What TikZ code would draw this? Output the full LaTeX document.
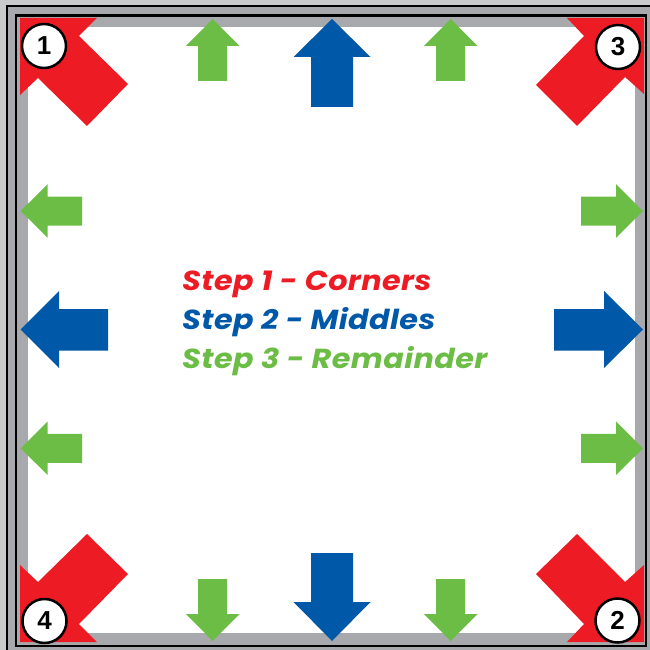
\documentclass[tikz,border=0pt]{standalone}
\usepackage{fontspec}
\setmainfont{Poppins}
\newfontfamily\stepfont{Poppins}[FakeStretch=1.10, LetterSpace=1.5]
\newfontfamily\numfont{Liberation Sans}
\definecolor{cred}{HTML}{ED1C24}
\definecolor{cblue}{HTML}{0058A8}
\definecolor{cgreen}{HTML}{6CBD45}
\definecolor{fgray}{HTML}{A7A9AC}
\definecolor{lgray}{HTML}{C9CACC}
\tikzset{
  numcirc/.style={circle, draw=black, line width=2.5pt, fill=white, minimum size=44pt, inner sep=0pt, font=\numfont\bfseries\fontsize{26}{26}\selectfont},
  steptext/.style={anchor=base west, inner sep=0pt, font=\stepfont\bfseries\itshape\fontsize{27.5}{27.5}\selectfont}
}
\begin{document}
\begin{tikzpicture}[x=1pt,y=-1pt]
\useasboundingbox (0,0) rectangle (650,650);
% frame
\fill[lgray] (0,0) rectangle (650,650);
\fill[fgray] (7,6) rectangle (650,650);
\draw[black, line width=2pt] (7,6.2) rectangle (660,660);
\draw[black, line width=2.4pt] (16.2,15.5) rectangle (645.8,646);
\fill[white] (28,27) rectangle (635,633);
% red corner arrows
\fill[cred] (20,18) -- (97,18) -- (79,36) -- (128,84) -- (87,126) -- (38,78) -- (20,95) -- cycle;
\fill[cred] (644,18) -- (567,18) -- (584,36) -- (536,85) -- (577,126) -- (625,77) -- (644,94) -- cycle;
\fill[cred] (20,642) -- (97,642) -- (79,624) -- (128,574) -- (87,534) -- (38,582) -- (20,565) -- cycle;
\fill[cred] (644,642) -- (567,642) -- (584,624) -- (536,574) -- (577,534) -- (625,582) -- (644,565) -- cycle;
% blue middle arrows
\fill[cblue] (332,19) -- (370.5,57) -- (353,57) -- (353,107) -- (311,107) -- (311,57) -- (293.5,57) -- cycle;
\fill[cblue] (332,641) -- (370.5,602) -- (353,602) -- (353,553) -- (311,553) -- (311,602) -- (293.5,602) -- cycle;
\fill[cblue] (20.7,329.5) -- (59,291) -- (59,309) -- (108,309) -- (108,350.5) -- (59,350.5) -- (59,368) -- cycle;
\fill[cblue] (643,329.5) -- (604,291) -- (604,309) -- (554,309) -- (554,350.5) -- (604,350.5) -- (604,368) -- cycle;
% green arrows
\fill[cgreen] (212.7,19) -- ++(26.8,27) -- ++(-12.3,0) -- ++(0,35) -- ++(-29,0) -- ++(0,-35) -- ++(-12.3,0) -- cycle;
\fill[cgreen] (450.7,19) -- ++(26.8,27) -- ++(-12.3,0) -- ++(0,35) -- ++(-29,0) -- ++(0,-35) -- ++(-12.3,0) -- cycle;
\fill[cgreen] (212.7,641) -- ++(26.8,-27) -- ++(-12.3,0) -- ++(0,-35) -- ++(-29,0) -- ++(0,35) -- ++(-12.3,0) -- cycle;
\fill[cgreen] (450.7,641) -- ++(26.8,-27) -- ++(-12.3,0) -- ++(0,-35) -- ++(-29,0) -- ++(0,35) -- ++(-12.3,0) -- cycle;
\fill[cgreen] (20.7,211) -- ++(27,-26.8) -- ++(0,12.3) -- ++(34.5,0) -- ++(0,29) -- ++(-34.5,0) -- ++(0,12.3) -- cycle;
\fill[cgreen] (20.7,448.3) -- ++(27,-26.8) -- ++(0,12.3) -- ++(34.5,0) -- ++(0,29) -- ++(-34.5,0) -- ++(0,12.3) -- cycle;
\fill[cgreen] (643,211) -- ++(-27,-26.8) -- ++(0,12.3) -- ++(-35,0) -- ++(0,29) -- ++(35,0) -- ++(0,12.3) -- cycle;
\fill[cgreen] (643,448.3) -- ++(-27,-26.8) -- ++(0,12.3) -- ++(-35,0) -- ++(0,29) -- ++(35,0) -- ++(0,12.3) -- cycle;
% numbered circles
\node[numcirc] (c1) at (44,46) {1};
\node[numcirc] (c3) at (618,47) {3};
\node[numcirc] (c4) at (44.5,621) {4};
\node[numcirc] (c2) at (617.5,620.5) {2};
% legend
\node[steptext, text=cred] (s1) at (182,290) {Step 1 - Corners};
\node[steptext, text=cblue] (s2) at (182,329) {Step 2 - Middles};
\node[steptext, text=cgreen] (s3) at (182,368) {Step 3 - Remainder};
\end{tikzpicture}
\end{document}
